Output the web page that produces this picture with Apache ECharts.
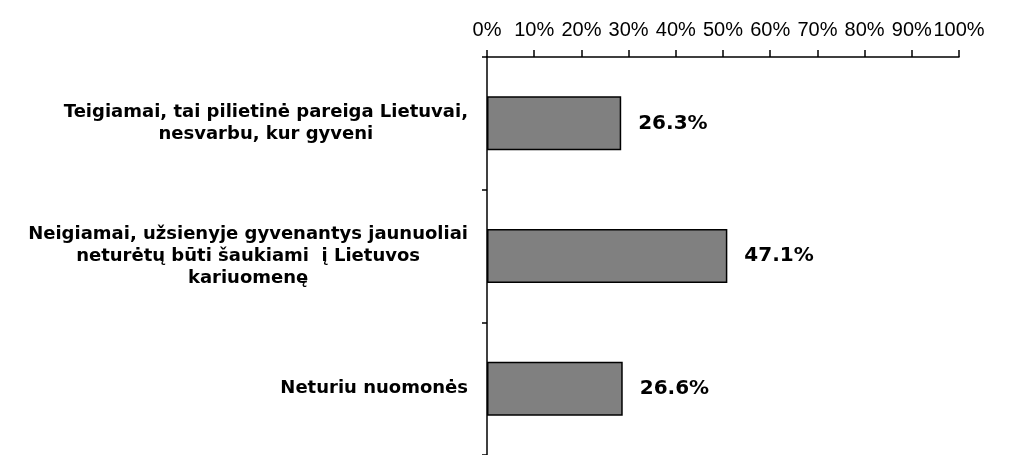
<!DOCTYPE html>
<html>
<head>
<meta charset="utf-8">
<script src="https://cdn.jsdelivr.net/npm/echarts@6/dist/echarts.min.js"></script>
<style>
  html, body { margin: 0; padding: 0; background: #fff; }
  #chart { width: 1027px; height: 455px; }
</style>
</head>
<body>
<div id="chart"></div>
<script>
var categories = [
  'Teigiamai, tai pilietinė pareiga Lietuvai,\nnesvarbu, kur gyveni',
  'Neigiamai, užsienyje gyvenantys jaunuoliai\nneturėtų būti šaukiami  į Lietuvos\nkariuomenę',
  'Neturiu nuomonės'
];
var values = [26.3, 47.1, 26.6];
var font = 'Liberation Sans, Arial, sans-serif';
var boldFont = 'DejaVu Sans, sans-serif';

var option = {
  animation: false,
  backgroundColor: '#fff',
  grid: { left: 487, right: 68, top: 57, height: 402 },
  xAxis: [{
    type: 'value',
    position: 'top',
    min: 0,
    max: 100,
    interval: 10,
    splitLine: { show: false },
    axisLine: { show: true, lineStyle: { color: '#000', width: 1.5 } },
    axisTick: { show: true, length: 7, lineStyle: { color: '#000', width: 1.5 } },
    axisLabel: {
      color: '#000', fontSize: 20, fontFamily: font, margin: 17,
      showMinLabel: true, showMaxLabel: true, hideOverlap: false,
      formatter: '{value}%'
    }
  }, {
    // bars in the source are drawn on a slightly stretched scale
    type: 'value',
    min: 0,
    max: 92.5,
    show: false,
    splitLine: { show: false }
  }],
  yAxis: {
    type: 'category',
    inverse: true,
    data: categories,
    axisLine: { show: true, lineStyle: { color: '#000', width: 1.5 } },
    axisTick: { show: true, length: 5, lineStyle: { color: '#000', width: 1.5 } },
    axisLabel: {
      margin: 19,
      align: 'right',
      formatter: function (v) {
        return v.split('\n').map(function (s) { return '{c|' + s + '}'; }).join('\n');
      },
      rich: {
        c: { align: 'center', color: '#000', fontSize: 18, fontWeight: 'bold', fontFamily: boldFont, lineHeight: 22 }
      }
    }
  },
  series: [{
    type: 'bar',
    xAxisIndex: 1,
    data: values,
    barWidth: 54,
    itemStyle: { color: '#808080', borderColor: '#000', borderWidth: 1.5 },
    label: {
      show: true,
      position: 'right',
      distance: 17,
      formatter: '{c}%',
      color: '#000',
      fontSize: 20,
      fontWeight: 'bold',
      fontFamily: boldFont
    }
  }]
};

var myChart = echarts.init(document.getElementById('chart'));
myChart.setOption(option);
</script>
</body>
</html>
